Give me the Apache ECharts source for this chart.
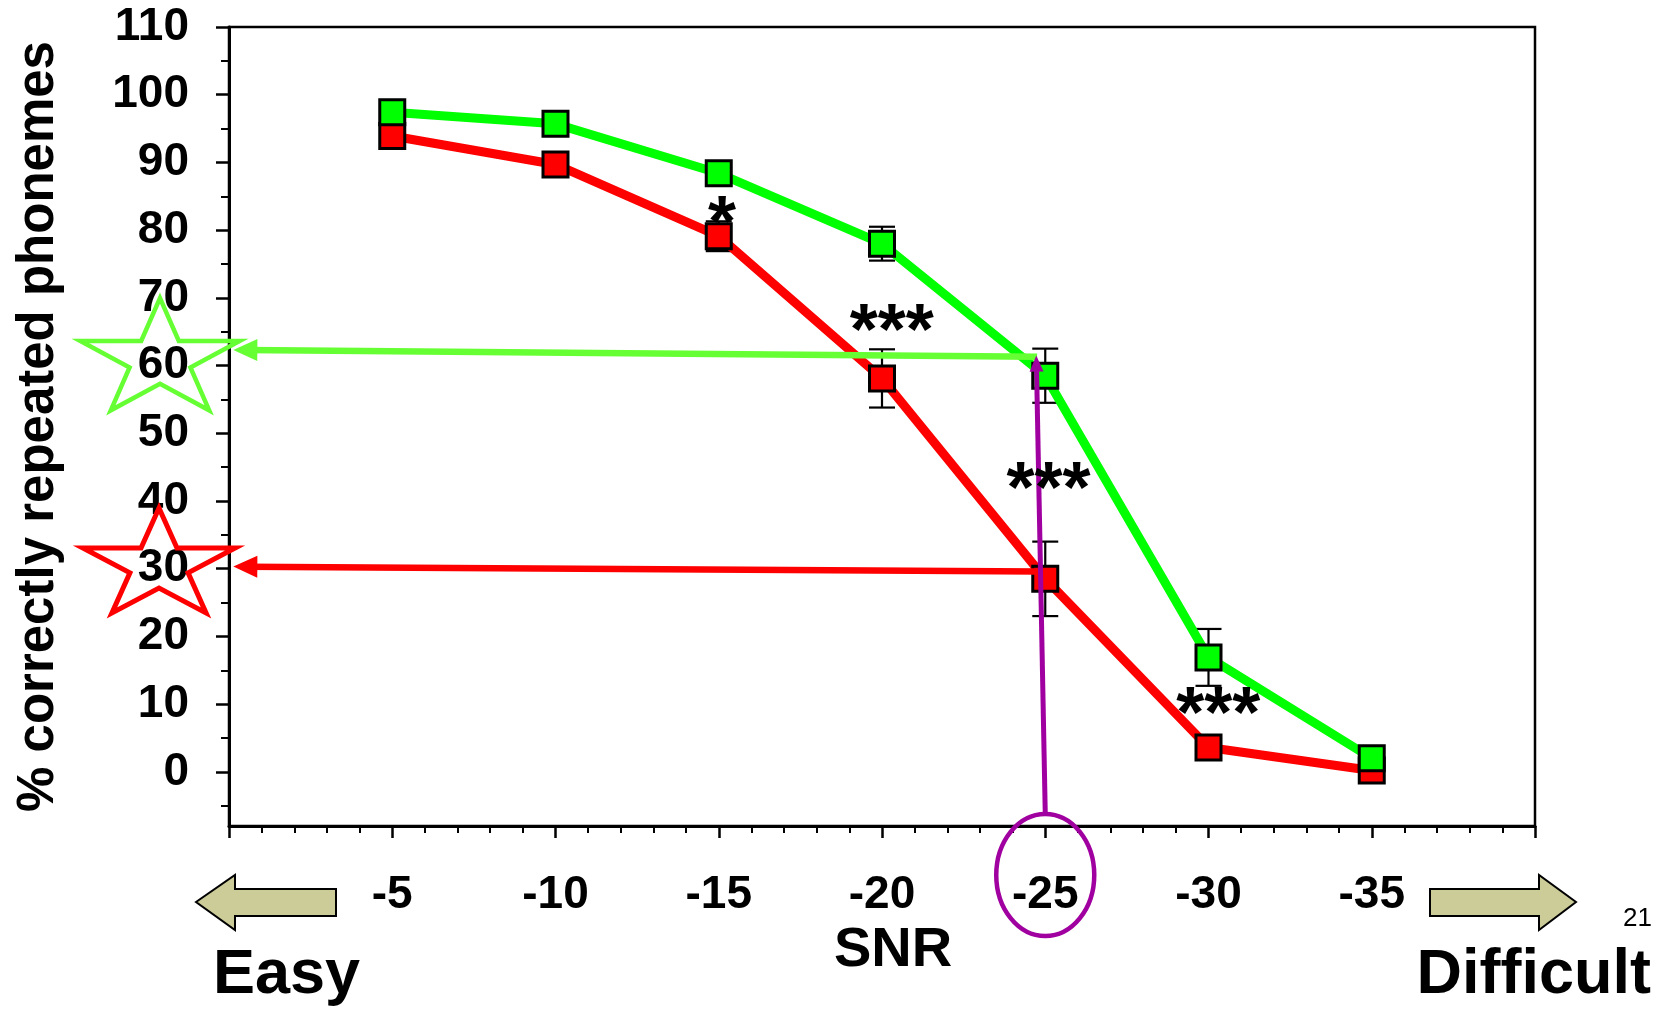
<!DOCTYPE html>
<html><head><meta charset="utf-8">
<script src="https://cdn.jsdelivr.net/npm/echarts@6/dist/echarts.min.js"></script>
<style>html,body{margin:0;padding:0;background:#fff}#c{width:1671px;height:1010px}</style>
</head><body><div id="c"></div>
<script>
// ---- data ----
const snr = [-5, -10, -15, -20, -25, -30, -35];
const green = [97.4, 95.7, 88.4, 78.0, 58.5, 16.9, 2.0];
const red = [93.9, 89.7, 79.1, 58.1, 28.5, 3.6, 0.2];
const greenErr = [0.8, 0.8, 1.0, 2.5, 4.0, 4.2, 0.8];
const redErr = [0.8, 0.8, 2.2, 4.3, 5.5, 0.8, 0.5];
const yTicks = [0, 10, 20, 30, 40, 50, 60, 70, 80, 90, 100, 110];
const yMinor = [-5, 5, 15, 25, 35, 45, 55, 65, 75, 85, 95, 105];
const sigX = [-15.1, -20.3, -25.1, -30.3];
const sigY = [82.9, 67.0, 43.6, 10.4];
const sigText = ['*', '***', '***', '***'];
const greenArrow = [[-24.75, 61.3], [-0.5, 62.3]];
const redArrow = [[-24.8, 29.6], [-0.5, 30.3]];
const purpleArrow = [[-25.0, -6.1], [-24.73, 60.3]];
const starLevels = [60.8, 30.4];

const FONT = '"Liberation Sans", Arial, Helvetica, sans-serif';
const chart = echarts.init(document.getElementById('c'), null, {renderer: 'canvas'});

function errSeries(vals, errs) {
  return {
    type: 'custom', silent: true, z: 1,
    data: snr.map((x, i) => [x, vals[i], errs[i]]),
    encode: {x: 0, y: 1},
    renderItem: (params, api) => {
      const x = api.value(0), y = api.value(1), e = api.value(2);
      const t = api.coord([x, y + e]), b = api.coord([x, y - e]);
      const w = 13, st = {stroke: '#000', lineWidth: 2.2};
      return {type: 'group', children: [
        {type: 'line', shape: {x1: t[0], y1: t[1], x2: b[0], y2: b[1]}, style: st},
        {type: 'line', shape: {x1: t[0] - w, y1: t[1], x2: t[0] + w, y2: t[1]}, style: st},
        {type: 'line', shape: {x1: b[0] - w, y1: b[1], x2: b[0] + w, y2: b[1]}, style: st}
      ]};
    }
  };
}
function arrowSeries(pts, color, width, head, z) {
  return {
    type: 'line', data: [], silent: true, z: z,
    markLine: {
      silent: true, animation: false, symbol: ['none', 'triangle'],
      label: {show: false}, emphasis: {disabled: true},
      lineStyle: {color: color, width: width, type: 'solid'},
      data: [[{coord: pts[0], symbol: 'none'}, {coord: pts[1], symbol: 'triangle', symbolSize: head}]]
    }
  };
}
const labelStyle = {fontSize: 46, fontWeight: 'bold', color: '#000', fontFamily: FONT};

chart.setOption({
  animation: false,
  backgroundColor: '#fff',
  grid: {left: 229, right: 136, top: 27, bottom: 184, show: true, borderColor: '#000', borderWidth: 2.5, backgroundColor: 'transparent'},
  xAxis: {
    type: 'value', min: -40, max: 0, interval: 5, inverse: true,
    axisLine: {show: true, onZero: false, lineStyle: {color: '#000', width: 3}},
    axisTick: {show: true, length: 12, lineStyle: {color: '#000', width: 2.5}},
    minorTick: {show: true, splitNumber: 5, length: 7, lineStyle: {color: '#000', width: 2}},
    splitLine: {show: false}, minorSplitLine: {show: false},
    axisLabel: Object.assign({margin: 46, formatter: v => snr.includes(v) ? String(v) : ''}, labelStyle),
    name: 'SNR', nameLocation: 'middle', nameGap: 91,
    nameTextStyle: {fontSize: 56, fontWeight: 'bold', color: '#000', fontFamily: FONT, padding: [0, 0, 0, 22]}
  },
  yAxis: [{
    type: 'value', min: -8, max: 110, splitNumber: 12,
    axisLine: {show: true, onZero: false, lineStyle: {color: '#000', width: 3}},
    axisTick: {show: true, length: 13, customValues: yTicks, lineStyle: {color: '#000', width: 2.5}},
    axisLabel: Object.assign({margin: 40, customValues: yTicks}, labelStyle),
    splitLine: {show: false},
    name: '% correctly repeated phonemes', nameLocation: 'middle', nameGap: 165,
    nameTextStyle: {fontSize: 51, fontWeight: 'bold', color: '#000', fontFamily: FONT}
  }, {
    type: 'value', min: -8, max: 110, position: 'left',
    axisLine: {show: false, onZero: false},
    axisTick: {show: true, length: 8, customValues: yMinor, lineStyle: {color: '#000', width: 2}},
    axisLabel: {show: false}, splitLine: {show: false}
  }],
  series: [
    errSeries(red, redErr),
    errSeries(green, greenErr),
    {type: 'line', name: 'red', data: snr.map((x, i) => [x, red[i]]), symbol: 'rect', symbolSize: 25,
     lineStyle: {color: '#ff0000', width: 9}, itemStyle: {color: '#ff0000', borderColor: '#000', borderWidth: 3}, z: 3, silent: true},
    {type: 'line', name: 'green', data: snr.map((x, i) => [x, green[i]]), symbol: 'rect', symbolSize: 25,
     lineStyle: {color: '#00ff00', width: 9}, itemStyle: {color: '#00ff00', borderColor: '#000', borderWidth: 3}, z: 4, silent: true},
    {type: 'scatter', silent: true, z: 6, symbol: 'circle', symbolSize: 0.1, itemStyle: {color: '#000', opacity: 0},
     data: sigX.map((x, i) => ({value: [x, sigY[i]], label: {formatter: sigText[i]}})),
     label: {show: true, position: 'inside', fontSize: 72, fontWeight: 'bold', color: '#000', opacity: 1,
             textBorderWidth: 0, fontFamily: FONT, offset: [0, 16]}},
    arrowSeries(redArrow, '#ff0000', 6.5, [22, 24], 7),
    arrowSeries(greenArrow, '#66ff33', 6.5, [22, 24], 8),
    arrowSeries(purpleArrow, '#a000a0', 5, [14, 16], 9)
  ]
});

function star(cx, cy, R, sx) {
  const pts = [], r = 0.382 * R;
  for (let k = 0; k < 10; k++) {
    const a = -Math.PI / 2 + k * Math.PI / 5, rr = k % 2 === 0 ? R : r;
    pts.push([cx + rr * Math.cos(a) * sx, cy + rr * Math.sin(a)]);
  }
  return pts;
}
const gY = chart.convertToPixel({xAxisIndex: 0, yAxisIndex: 0}, [0, starLevels[0]])[1];
const rY = chart.convertToPixel({xAxisIndex: 0, yAxisIndex: 0}, [0, starLevels[1]])[1];
const c25 = chart.convertToPixel({xAxisIndex: 0, yAxisIndex: 0}, [-25, 0])[0];

chart.setOption({
  graphic: [
    {type: 'polygon', z: 100, shape: {points: star(160, gY, 62, 1.35)}, style: {fill: 'none', stroke: '#66ff33', lineWidth: 4.5}},
    {type: 'polygon', z: 100, shape: {points: star(159, rY, 58, 1.38)}, style: {fill: 'none', stroke: '#ff0000', lineWidth: 5}},
    {type: 'ellipse', z: 100, shape: {cx: c25, cy: 875, rx: 49, ry: 61}, style: {fill: 'none', stroke: '#a000a0', lineWidth: 4.5}},
    {type: 'polygon', z: 100, shape: {points: [[196, 902], [235, 875], [235, 889], [336, 889], [336, 916], [235, 916], [235, 930]]},
     style: {fill: '#cccc99', stroke: '#000', lineWidth: 2}},
    {type: 'polygon', z: 100, shape: {points: [[1430, 889], [1539, 889], [1539, 875], [1576, 902], [1539, 930], [1539, 916], [1430, 916]]},
     style: {fill: '#cccc99', stroke: '#000', lineWidth: 2}},
    {type: 'text', z: 100, style: {text: 'Easy', x: 213, y: 976, verticalAlign: 'middle', align: 'left', font: 'bold 63px ' + FONT, fill: '#000'}},
    {type: 'text', z: 100, style: {text: 'Difficult', x: 1651, y: 976, verticalAlign: 'middle', align: 'right', font: 'bold 63px ' + FONT, fill: '#000'}},
    {type: 'text', z: 100, style: {text: '21', x: 1652, y: 919, verticalAlign: 'middle', align: 'right', font: '26px ' + FONT, fill: '#000'}}
  ]
});
</script>
</body></html>
